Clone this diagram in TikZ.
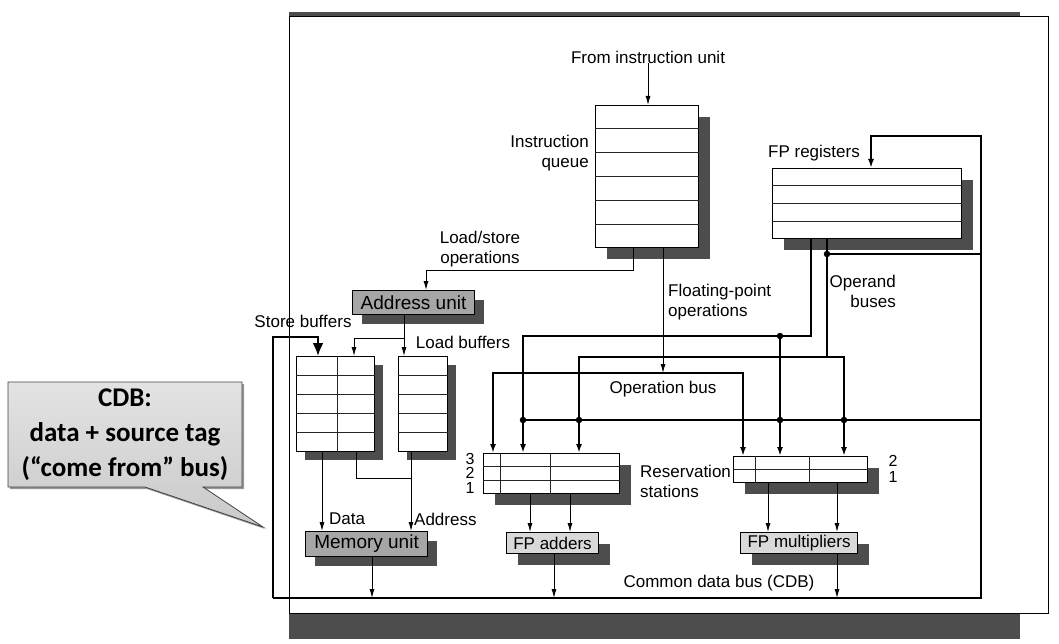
\documentclass[tikz,border=0pt]{standalone}
\usepackage{fontspec}
\setmainfont{Liberation Sans}
\newfontfamily\notefont{Carlito}
\usetikzlibrary{arrows.meta, shadows, calc}
\definecolor{shgray}{RGB}{77,77,77}

\begin{document}
\begin{tikzpicture}[x=1pt,y=-1pt,
    >={Latex[length=9pt,width=5pt]},
    box/.style={draw, line width=1.1pt, fill=white, inner sep=0pt, anchor=north west,
        drop shadow={shadow xshift=#1, shadow yshift=-#1, fill=shgray, opacity=1}},
    box/.default=11pt,
    unit/.style={box=9pt, fill=black!35, font=\fontsize{19}{22}\selectfont},
    fpunit/.style={box, fill=black!15, font=\fontsize{17}{20}\selectfont},
    row/.style={line width=1pt, black!85},
    bus/.style={line width=2.2pt, >={Latex[length=9pt,width=6pt]}},
    thinline/.style={line width=1pt},
    dot/.style={circle, fill, inner sep=0pt, minimum size=6.5pt},
    lbl/.style={inner sep=0pt, font=\fontsize{17}{20}\selectfont}]
\useasboundingbox (0,0) rectangle (1059,644);
%------------------------------
% frame
%______________________________
\fill[shgray] (289,12) rectangle (1020,639);
\draw[line width=1pt, fill=white] (289,17) rectangle (1048,613);
%
% bus corners
\coordinate (ls) at (633,270);
\coordinate (lsau) at (426,270);
\coordinate (fpop) at (663,373);
\coordinate (abr) at (404,338);
\coordinate (abl) at (354,338);
\coordinate (addrs) at (356,478);
\coordinate (addr) at (411,478);
\coordinate (cdbL) at (273,598);
\coordinate (cdbR) at (981,598);
\coordinate (cdbT) at (981,136);
\coordinate (cdbF) at (871,136);
\coordinate (cdbS) at (273,337);
\coordinate (cdbSB) at (318,337);
\coordinate (op2a) at (827,254);
\coordinate (rsbus) at (523,420);
\coordinate (ob1) at (811,336);
\coordinate (ob1l) at (523,336);
\coordinate (ob1m) at (780,336);
\coordinate (ob2) at (827,357);
\coordinate (ob2l) at (579,357);
\coordinate (ob2r) at (844,357);
\coordinate (opl) at (493,373);
\coordinate (opr) at (743,373);
%
% boxes
\node[box, minimum width=103pt, minimum height=142pt] (iq) at (595,105) {};
\node[box, minimum width=189pt, minimum height=70pt] (fpr) at (772,168) {};
\node[unit, minimum width=122pt, minimum height=24pt] (au) at (352,290) {Address unit};
\node[box=8pt, minimum width=78pt, minimum height=95pt] (sb) at (296,356) {};
\node[box=8pt, minimum width=49pt, minimum height=95pt] (lb) at (398,356) {};
\node[box, minimum width=136pt, minimum height=40pt] (rsa) at (483,453) {};
\node[box, minimum width=134pt, minimum height=26pt] (rsm) at (733,456) {};
\node[unit, minimum width=122pt, minimum height=25pt] (mu) at (305,531) {Memory unit};
\node[fpunit, minimum width=92pt, minimum height=21pt] (fpa) at (506,532) {FP adders};
\node[fpunit, minimum width=117pt, minimum height=21pt] (fpm) at (740,532) {FP multipliers};
%
% rows and columns
\foreach \i in {1,...,5}
    \draw[row] ($(iq.north west)!\i/6!(iq.south west)$) -- ($(iq.north east)!\i/6!(iq.south east)$);
\foreach \i in {1,2,3}
    \draw[row] ($(fpr.north west)!\i/4!(fpr.south west)$) -- ($(fpr.north east)!\i/4!(fpr.south east)$);
\foreach \b in {sb,lb}
    \foreach \i in {1,...,4}
        \draw[row] ($(\b.north west)!\i/5!(\b.south west)$) -- ($(\b.north east)!\i/5!(\b.south east)$);
\draw[row] ($(sb.north west)!0.53!(sb.north east)$) -- ($(sb.south west)!0.53!(sb.south east)$);
\foreach \i in {1,2}
    \draw[row] ($(rsa.north west)!\i/3!(rsa.south west)$) -- ($(rsa.north east)!\i/3!(rsa.south east)$);
\foreach \f in {0.125,0.49}
    \draw[row] ($(rsa.north west)!\f!(rsa.north east)$) -- ($(rsa.south west)!\f!(rsa.south east)$);
\draw[row] ($(rsm.north west)!0.5!(rsm.south west)$) -- ($(rsm.north east)!0.5!(rsm.south east)$);
\foreach \f in {0.164,0.567}
    \draw[row] ($(rsm.north west)!\f!(rsm.north east)$) -- ($(rsm.south west)!\f!(rsm.south east)$);
%
% labels
\node[lbl] (from) at (648,57) {From instruction unit};
\node[lbl, align=right, anchor=east] (iqlbl) at (589,153) {Instruction\\queue};
\node[lbl, align=center] (lslbl) at (480,249) {Load/store\\operations};
\node[lbl] (fprlbl) at (814,153) {FP registers};
\node[lbl, align=left, anchor=west] (fplbl) at (668,302) {Floating-point\\operations};
\node[lbl, align=right, anchor=east] (oblbl) at (896,291) {Operand\\buses};
\node[lbl] (sblbl) at (303,321) {Store buffers};
\node[lbl] (lblbl) at (463,342) {Load buffers};
\node[lbl] (opbus) at (663,389) {Operation bus};
\node[lbl, align=left, anchor=west] (rslbl) at (640,481) {Reservation\\stations};
\node[lbl, font=\fontsize{16}{14.5}\selectfont, align=center] (rsanum) at (470,473) {3\\2\\1};
\node[lbl, font=\fontsize{16}{15.5}\selectfont, align=center] (rsmnum) at (893,469) {2\\1};
\node[lbl, anchor=west] (datalbl) at (329,519) {Data};
\node[lbl, anchor=west] (addrlbl) at (414,519) {Address};
\node[lbl] (cdblbl) at (719,583) {Common data bus (CDB)};
%
% thin connectors
\draw[thinline,->] (from.south) -- (from.south |- iq.north);
\draw[thinline,->] (iq.south -| ls) -- (ls) -- (lsau) -- (lsau |- au.north);
\draw[thinline,->] (iq.south -| fpop) -- (fpop);
\draw[thinline,->] (au.south -| abr) -- (abr |- lb.north);
\draw[thinline,->] (abr) -- (abl) -- (abl |- sb.north);
\draw[thinline,->] (sb.south -| 322,0) -- (mu.north -| 322,0);
\draw[thinline] (sb.south -| addrs) -- (addrs) -- (addr);
\draw[thinline,->] (lb.south -| addr) -- (addr |- mu.north);
\draw[thinline,->] (mu.south -| 372,0) -- (cdbL -| 372,0);
\foreach \c in {530,570}
    \draw[thinline,->] (rsa.south -| \c,0) -- (fpa.north -| \c,0);
\foreach \c in {768,837}
    \draw[thinline,->] (rsm.south -| \c,0) -- (fpm.north -| \c,0);
\draw[thinline,->] (fpa.south -| 554,0) -- (cdbL -| 554,0);
\draw[thinline,->] (fpm.south -| 837,0) -- (cdbL -| 837,0);
%
% buses
\draw[bus,->] (cdbL) -- (cdbR) -- (cdbT) -- (cdbF) -- (cdbF |- fpr.north);
\draw[bus,-{Latex[length=13pt,width=11pt]}] (cdbL) -- (cdbS) -- (cdbSB) -- (cdbSB |- sb.north);
\draw[bus] (cdbR |- op2a) -- (op2a);
\draw[bus] (cdbR |- rsbus) -- (rsbus);
\draw[bus,->] (fpr.south -| ob1) -- (ob1) -- (ob1l) -- (ob1l |- rsa.north);
\draw[bus,->] (ob1m) -- (ob1m |- rsm.north);
\draw[bus] (fpr.south -| ob2) -- (ob2);
\draw[bus,<->] (ob2l |- rsa.north) -- (ob2l) -- (ob2r) -- (ob2r |- rsm.north);
\draw[bus,<->] (opl |- rsa.north) -- (opl) -- (opr) -- (opr |- rsm.north);
\foreach \p in {ob1m, op2a, rsbus}
    \node[dot] at (\p) {};
\foreach \p in {ob2l, ob1m, ob2r}
    \node[dot] at (\p |- rsbus) {};
%
% callout
\fill[black!40, shift={(2,2)}] (8,382) -- (242,382) -- (242,487) -- (203,487) -- (263,527) -- (145,487) -- (8,487) -- cycle;
\draw[black!75, line width=0.8pt, top color=gray!22, bottom color=gray!42] (8,382) -- (242,382) -- (242,487) -- (203,487) -- (263,527) -- (145,487) -- (8,487) -- cycle;
\node[font={\notefont\bfseries\fontsize{27}{35}\selectfont}, align=center] (note) at (125,435) {CDB:\\data + source tag\\(“come from” bus)};
\end{tikzpicture}
\end{document}
